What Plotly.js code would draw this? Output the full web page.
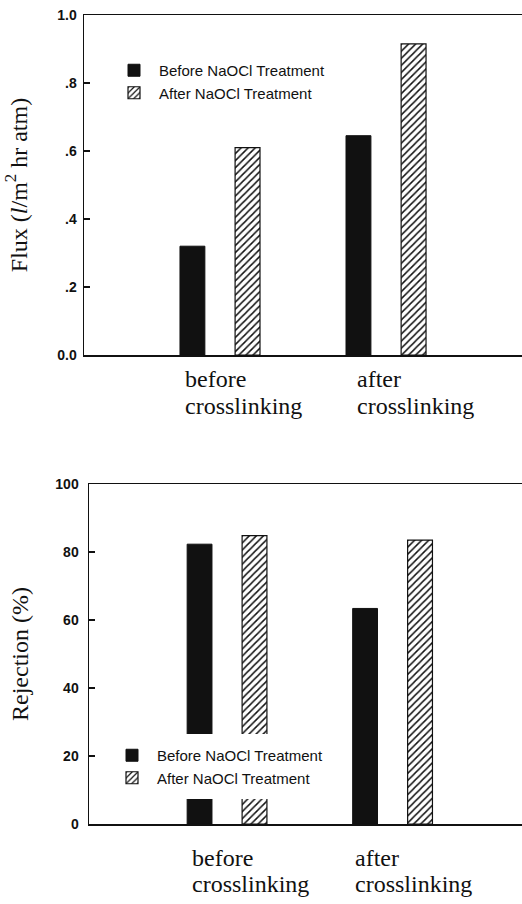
<!DOCTYPE html>
<html>
<head>
<meta charset="utf-8">
<script src="https://cdn.plot.ly/plotly-3.0.1.min.js"></script>
<style>html,body{margin:0;padding:0;background:#fff;}#chart{width:522px;height:904px;}</style>
</head>
<body>
<div id="chart"></div>
<script>
// ---- data ----
var categories = ["before crosslinking", "after crosslinking"];
var categoryLines = [["before", "crosslinking"], ["after", "crosslinking"]];
var seriesNames = ["Before NaOCl Treatment", "After NaOCl Treatment"];
var fluxBefore = [0.32, 0.645];
var fluxAfter = [0.61, 0.915];
var rejectionBefore = [82.3, 63.4];
var rejectionAfter = [84.8, 83.5];
var fluxTickVals = [0, 0.2, 0.4, 0.6, 0.8, 1.0];
var fluxTickText = ["0.0", ".2", ".4", ".6", ".8", "1.0"];
var rejTickVals = [0, 20, 40, 60, 80, 100];
var rejTickText = ["0", "20", "40", "60", "80", "100"];

// ---- styles ----
var INK = "#111";
var barW = 0.15;
var offBefore = -0.241, offAfter = 0.091;
var solidStyle = {color: INK, line: {color: INK, width: 1}};
var hatchStyle = {color: "#fff", line: {color: INK, width: 1.2},
  pattern: {shape: "/", fgcolor: INK, bgcolor: "#fff", size: 5, solidity: 0.3}};

function bar(y, name, style, off, xa, ya, legend) {
  return {type: "bar", x: categories, y: y, name: name, marker: style,
    width: barW, offset: off, xaxis: xa, yaxis: ya, legend: legend, hoverinfo: "skip"};
}

var data = [
  bar(fluxBefore, seriesNames[0], solidStyle, offBefore, "x", "y", "legend"),
  bar(fluxAfter, seriesNames[1], hatchStyle, offAfter, "x", "y", "legend"),
  bar(rejectionBefore, seriesNames[0], solidStyle, offBefore, "x2", "y2", "legend2"),
  bar(rejectionAfter, seriesNames[1], hatchStyle, offAfter, "x2", "y2", "legend2")
];

var tickFont = {family: "Arial, 'Liberation Sans'", size: 14, color: INK, weight: "bold"};
var titleFont = {family: "'Times New Roman', 'Liberation Serif', serif", size: 24, color: INK};
var catFont = {family: "'Times New Roman', 'Liberation Serif', serif", size: 24, color: INK};
var legFont = {family: "Arial, 'Liberation Sans'", size: 15, color: INK};

function xax(domain, range, anchor) {
  return {domain: domain, range: range, type: "category", anchor: anchor,
    showline: true, linecolor: INK, linewidth: 1.5, mirror: true,
    showticklabels: false, ticks: "", showgrid: false, zeroline: false, automargin: false, fixedrange: true};
}
function yax(domain, range, tv, tt, title, anchor, standoff, lblStandoff) {
  return {domain: domain, range: range, anchor: anchor, tickvals: tv, ticktext: tt,
    ticks: "inside", ticklen: 6, tickwidth: 1.2, tickcolor: INK,
    showline: true, linecolor: INK, linewidth: 1.5, showgrid: false, zeroline: false,
    tickfont: tickFont, ticklabelstandoff: lblStandoff, automargin: false, fixedrange: true,
    title: {text: title, font: titleFont, standoff: standoff}};
}

// category labels: left-aligned two-line blocks under each group
var annotations = [];
var topLineY = [364, 391], botLineY = [843, 869];
var topShift = [-37, -31], botShift = [-37, -40];
for (var i = 0; i < categories.length; i++) {
  for (var j = 0; j < 2; j++) {
    annotations.push({text: categoryLines[i][j], x: categories[i], xref: "x", y: 1 - topLineY[j]/904, yref: "paper",
      xanchor: "left", yanchor: "top", showarrow: false, xshift: topShift[i], font: catFont});
    annotations.push({text: categoryLines[i][j], x: categories[i], xref: "x2", y: 1 - botLineY[j]/904, yref: "paper",
      xanchor: "left", yanchor: "top", showarrow: false, xshift: botShift[i], font: catFont});
  }
}

var layout = {
  width: 522, height: 904,
  margin: {l: 0, r: 0, t: 0, b: 0},
  paper_bgcolor: "#fff", plot_bgcolor: "rgba(0,0,0,0)",
  barmode: "overlay",
  showlegend: true,
  xaxis: xax([84/522, 1], [-0.819, 1.819], "y"),
  yaxis: yax([1 - 355/904, 1 - 15/904], [0, 1.0], fluxTickVals, fluxTickText, "Flux (<i>l</i>/m<sup>2</sup> hr atm)", "x", 23, 3),
  xaxis2: xax([89/522, 1], [-0.834, 1.782], "y2"),
  yaxis2: yax([1 - 824/904, 1 - 484/904], [0, 100], rejTickVals, rejTickText, "Rejection (%)", "x2", 20, 6),
  legend: {x: 109/522, y: 1 - 54/904, xanchor: "left", yanchor: "top", bgcolor: "rgba(255,255,255,0)",
    borderwidth: 0, font: legFont, itemwidth: 40, traceorder: "normal", itemclick: false, itemdoubleclick: false},
  legend2: {x: 102/522, y: 1 - 734/904, xanchor: "left", yanchor: "top", bgcolor: "#fff",
    bordercolor: "#fff", borderwidth: 5, font: legFont, itemwidth: 40, traceorder: "normal", itemclick: false, itemdoubleclick: false},
  annotations: annotations
};

Plotly.newPlot("chart", data, layout, {displayModeBar: false, staticPlot: true});
</script>
</body>
</html>
